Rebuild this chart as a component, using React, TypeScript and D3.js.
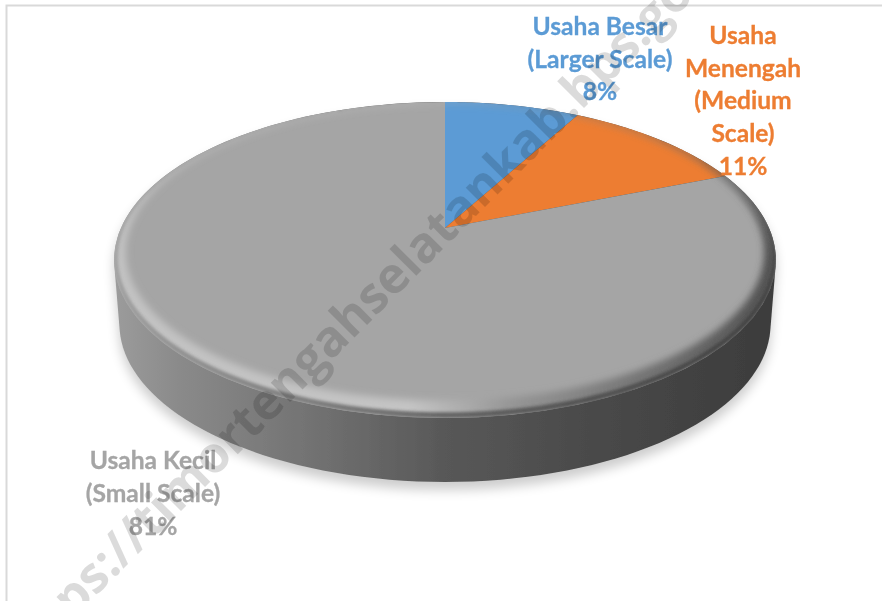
import React from "react";
import * as d3 from "d3";

const categories = ["Usaha Besar", "Usaha Menengah", "Usaha Kecil"];
const values = [8, 11, 81];
const colors = ["#5b9bd5", "#ed7d31", "#a5a5a5"];
const labelLines = [
  ["Usaha Besar", "(Larger Scale)", "8%"],
  ["Usaha", "Menengah", "(Medium", "Scale)", "11%"],
  ["Usaha Kecil", "(Small Scale)", "81%"],
];
const labelAnchors = [
  { x: 600, y: 35, dy: 32.5 },
  { x: 743, y: 44, dy: 32.7 },
  { x: 153, y: 469, dy: 33 },
];
const watermark = "https://timortengahselatankab.bps.go.id";

const W = 882, H = 601;
const apex = { x: 445, y: 228 };
const persp = 0.2025, radX = 324, radY = 151.5, depth = 64;

// perspective projection of the unit disc onto the picture
function project(theta: number, r = 1, dy = 0, scale = 1): [number, number] {
  const u = r * Math.sin(theta), v = r * Math.cos(theta);
  const den = 1 + persp * v;
  return [apex.x + (scale * radX * u) / den, apex.y - (radY * v) / den + dy];
}
const ring = d3.range(0, 361, 2).map((d) => (d * Math.PI) / 180);
const line = d3.line<[number, number]>().curve(d3.curveLinear);
const disc = line(ring.map((t) => project(t)))! + "Z";
const bodyHull = d3.polygonHull([
  ...ring.map((t) => project(t)),
  ...ring.map((t) => project(t, 1, depth, 0.984)),
])!;
const body = line(bodyHull as [number, number][])! + "Z";

function insetOutline(sx: number, sy: number, lift: number) {
  return line(
    ring.map((t) => {
      const [x, y] = project(t);
      const cx = apex.x, cy = 260;
      return [cx + (x - cx) * sx, cy + (y - cy) * sy - lift] as [number, number];
    })
  )! + "Z";
}
const innerWide = insetOutline(0.965, 0.94, 8);
const innerEdge = insetOutline(0.99, 0.982, 2.8);

const pie = d3.pie<number>().sort(null).value((d) => d);
const arcs = pie(values);

function wedge(a: number, b: number) {
  const steps = d3.range(0, 61).map((i) => a + ((b - a) * i) / 60);
  return line([[apex.x, apex.y], ...steps.map((t) => project(t))])! + "Z";
}

export default function App() {
  return (
    <svg
      width={W}
      height={H}
      viewBox={`0 0 ${W} ${H}`}
      style={{ position: "absolute", left: 0, top: 0, background: "#fff" }}
    >
      <defs>
        <linearGradient id="side" gradientUnits="userSpaceOnUse" x1={113} x2={775} y1={0} y2={0}>
          <stop offset="0" stopColor="#9c9c9c" />
          <stop offset="0.1" stopColor="#8a8a8a" />
          <stop offset="0.3" stopColor="#727272" />
          <stop offset="0.5" stopColor="#585858" />
          <stop offset="0.75" stopColor="#484848" />
          <stop offset="1" stopColor="#3c3c3c" />
        </linearGradient>
        <linearGradient id="rim" gradientUnits="userSpaceOnUse" x1={113} x2={775} y1={0} y2={0}>
          <stop offset="0" stopColor="#c2c2c2" />
          <stop offset="0.45" stopColor="#c4c4c4" />
          <stop offset="0.6" stopColor="#969696" />
          <stop offset="0.85" stopColor="#6c6c6c" />
          <stop offset="1" stopColor="#505050" />
        </linearGradient>
        <filter id="shadow" x="-10%" y="-10%" width="120%" height="120%">
          <feGaussianBlur stdDeviation="6" />
        </filter>
        <filter id="soft" x="-5%" y="-5%" width="110%" height="110%">
          <feGaussianBlur stdDeviation="3.5" />
        </filter>
        <filter id="softer" x="-5%" y="-5%" width="110%" height="110%">
          <feGaussianBlur stdDeviation="1.6" />
        </filter>
        <filter id="lens" x="0" y="0" width="100%" height="100%">
          <feGaussianBlur stdDeviation="0.55" />
        </filter>
        <clipPath id="discClip">
          <path d={disc} />
        </clipPath>
      </defs>

      <g filter="url(#lens)">
        <path d={`M6.5 ${H}V5.5H${W}`} fill="none" stroke="#d9d9d9" strokeWidth={2} />
        <path d={body} fill="#000" opacity={0.2} transform="translate(0,8)" filter="url(#shadow)" />
        <path d={body} fill="url(#side)" />
        {arcs.map((a, i) => (
          <path key={categories[i]} d={wedge(a.startAngle, a.endAngle)} fill={colors[i]} />
        ))}
        <g clipPath="url(#discClip)">
          <path d={disc + innerWide} fillRule="evenodd" fill="url(#rim)" filter="url(#soft)" />
          <path d={disc + innerEdge} fillRule="evenodd" fill="url(#side)" filter="url(#softer)" opacity={0.85} />
        </g>
        {labelLines.map((lines, i) => (
          <text
            key={i}
            textAnchor="middle"
            fontFamily="Lato, sans-serif"
            fontWeight={700}
            fontSize={24.6}
            fill={colors[i]}
            stroke={colors[i]}
            strokeWidth={0.3}
          >
            {lines.map((l, j) => (
              <tspan key={j} x={labelAnchors[i].x} y={labelAnchors[i].y + j * labelAnchors[i].dy}>
                {l}
              </tspan>
            ))}
          </text>
        ))}
        <text
          transform="translate(19,673) rotate(-45)"
          fontFamily="'Open Sans', sans-serif"
          fontWeight={700}
          fontSize={50}
          fill="#000"
          opacity={0.14}
        >
          {watermark}
        </text>
      </g>
    </svg>
  );
}
